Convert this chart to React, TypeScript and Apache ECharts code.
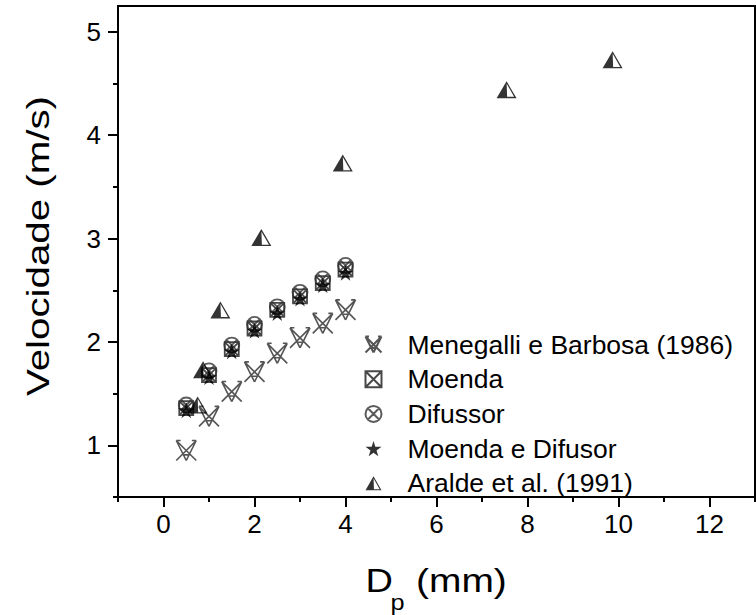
import React, { useEffect, useRef } from 'react';
import * as echarts from 'echarts';

const seriesNames = ['Menegalli e Barbosa (1986)', 'Moenda', 'Difussor', 'Moenda e Difusor', 'Aralde et al. (1991)'];

const menegalli = [[0.5, 0.95], [1.0, 1.28], [1.5, 1.52], [2.0, 1.71], [2.5, 1.89], [3.0, 2.04], [3.5, 2.18], [4.0, 2.31]];
const moenda = [[0.5, 1.36], [1.0, 1.68], [1.5, 1.93], [2.0, 2.13], [2.5, 2.31], [3.0, 2.44], [3.5, 2.57], [4.0, 2.70]];
const difussor = [[0.5, 1.39], [1.0, 1.72], [1.5, 1.97], [2.0, 2.17], [2.5, 2.34], [3.0, 2.48], [3.5, 2.61], [4.0, 2.74]];
const moendaDifusor = [[0.5, 1.34], [1.0, 1.66], [1.5, 1.91], [2.0, 2.11], [2.5, 2.28], [3.0, 2.42], [3.5, 2.55], [4.0, 2.67]];
const aralde = [[0.75, 1.39], [0.87, 1.73], [1.25, 2.31], [2.15, 3.01], [3.94, 3.73], [7.54, 4.44], [9.87, 4.73]];

const xMajorTicks = [0, 2, 4, 6, 8, 10, 12];
const xMinorTicks = [-1, 1, 3, 5, 7, 9, 11, 13];
const yMajorTicks = [1, 2, 3, 4, 5];
const yMinorTicks = [0.5, 1.5, 2.5, 3.5, 4.5];

const FONT = 'Liberation Sans, Arial, Helvetica, sans-serif';

const SYM_MENEGALLI = 'path://M0,0 L100,100 M100,0 L0,100 M0,0 L50,100 M50,100 L100,0 M0,0 L22,0 M78,0 L100,0 M38,72 L62,72';
const SYM_MOENDA = 'path://M0,0 L100,0 L100,100 L0,100 Z M0,0 L100,100 M100,0 L0,100';
const SYM_DIFUSSOR = 'path://M50,0 C78,0 100,22 100,50 C100,78 78,100 50,100 C22,100 0,78 0,50 C0,22 22,0 50,0 Z M15,15 L85,85 M85,15 L15,85';
const SYM_STAR = 'path://M50,0 L61,35 L98,35 L68,57 L79,91 L50,70 L21,91 L32,57 L2,35 L39,35 Z';
const SYM_ARALDE = 'path://M50,0 L0,87 L53,87 Z M50,0 L50,12 L92,87 L100,87 Z M53,80 L53,87 L100,87 L96,80 Z';

export default function App() {
  const ref = useRef<HTMLDivElement>(null);
  useEffect(() => {
    document.body.style.margin = '0';
    if (!ref.current) return;
    const chart = echarts.init(ref.current, undefined, { renderer: 'svg' });
    const axisLineStyle = { color: '#000', width: 2 };
    const option: any = {
      animation: false,
      backgroundColor: '#fff',
      grid: { left: 118, right: 1, top: 6, bottom: 118, show: true, borderColor: '#000', borderWidth: 2, backgroundColor: 'transparent' },
      xAxis: [
        {
          type: 'value', min: -1, max: 13, position: 'bottom',
          axisLine: { show: true, onZero: false, lineStyle: axisLineStyle },
          axisTick: { show: true, inside: false, length: 5, customValues: xMinorTicks, lineStyle: axisLineStyle },
          axisLabel: { show: false },
          splitLine: { show: false },
        },
        {
          type: 'value', min: -1, max: 13, position: 'bottom', offset: 0,
          axisLine: { show: false, onZero: false },
          axisTick: { show: true, inside: false, length: 10, customValues: xMajorTicks, lineStyle: axisLineStyle },
          axisLabel: { show: true, customValues: xMajorTicks, fontSize: 26, color: '#000', fontFamily: FONT, margin: 14 },
          splitLine: { show: false },
        },
      ],
      yAxis: [
        {
          type: 'value', min: 0.5, max: 5.25, position: 'left',
          axisLine: { show: true, onZero: false, lineStyle: axisLineStyle },
          axisTick: { show: true, inside: false, length: 10, customValues: yMajorTicks, lineStyle: axisLineStyle },
          axisLabel: { show: true, customValues: yMajorTicks, fontSize: 26, color: '#000', fontFamily: FONT, margin: 17 },
          splitLine: { show: false },
        },
        {
          type: 'value', min: 0.5, max: 5.25, position: 'left', offset: 0,
          axisLine: { show: false, onZero: false },
          axisTick: { show: true, inside: false, length: 5, customValues: yMinorTicks, lineStyle: axisLineStyle },
          axisLabel: { show: false },
          splitLine: { show: false },
        },
      ],
      legend: {
        orient: 'vertical', left: 358, top: 326,
        itemWidth: 16, itemHeight: 16, itemGap: 7.7,
        textStyle: { fontSize: 26.5, lineHeight: 26, color: '#000', fontFamily: FONT, padding: [0, 0, 0, 21] },
        data: seriesNames,
        selectedMode: false,
      },
      series: [
        {
          name: seriesNames[0], type: 'scatter', data: menegalli, symbol: SYM_MENEGALLI, symbolSize: 20,
          itemStyle: { color: 'none', borderColor: '#2a2a2a', borderWidth: 1.6 }, silent: true, z: 2,
        },
        {
          name: seriesNames[1], type: 'scatter', data: moenda, symbol: SYM_MOENDA, symbolSize: 14,
          itemStyle: { color: 'none', borderColor: '#1a1a1a', borderWidth: 1.8 }, silent: true, z: 3,
        },
        {
          name: seriesNames[2], type: 'scatter', data: difussor, symbol: SYM_DIFUSSOR, symbolSize: 15,
          itemStyle: { color: 'none', borderColor: '#333', borderWidth: 1.8 }, silent: true, z: 4,
        },
        {
          name: seriesNames[3], type: 'scatter', data: moendaDifusor, symbol: SYM_STAR, symbolSize: 16,
          itemStyle: { color: '#000' }, silent: true, z: 5,
        },
        {
          name: seriesNames[4], type: 'scatter', data: aralde, symbol: SYM_ARALDE, symbolSize: [20, 17],
          itemStyle: { color: '#000' }, silent: true, z: 6,
        },
      ],
      graphic: [
        {
          type: 'text', x: 38, y: 246, rotation: Math.PI / 2, scaleX: 1.3, scaleY: 1,
          style: { text: 'Velocidade (m/s)', fontSize: 31, fontFamily: FONT, fill: '#000', align: 'center', verticalAlign: 'middle' },
        },
        {
          type: 'text', x: 365.5, y: 580.5, scaleX: 1.15,
          style: { text: 'D', fontSize: 33, fontFamily: FONT, fill: '#000', align: 'left', verticalAlign: 'middle' },
        },
        {
          type: 'text', x: 390.5, y: 602.8, scaleX: 1.15,
          style: { text: 'p', fontSize: 22, fontFamily: FONT, fill: '#000', align: 'left', verticalAlign: 'middle' },
        },
        {
          type: 'text', x: 416, y: 580.5, scaleX: 1.18,
          style: { text: '(mm)', fontSize: 33, fontFamily: FONT, fill: '#000', align: 'left', verticalAlign: 'middle' },
        },
      ],
    };
    chart.setOption(option);
    return () => chart.dispose();
  }, []);
  return <div ref={ref} style={{ position: 'fixed', left: 0, top: 0, width: 756, height: 615 }} />;
}
